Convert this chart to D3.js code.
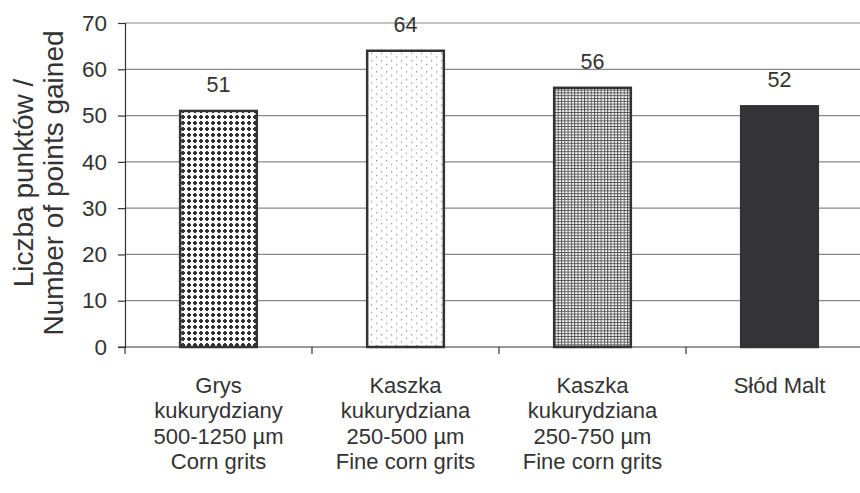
<!DOCTYPE html>
<html><head><meta charset="utf-8">
<script src="https://cdn.jsdelivr.net/npm/d3@7"></script>
<style>body{margin:0;background:#fff}svg{display:block;font-family:"Liberation Sans",Arial,sans-serif}</style>
</head><body><svg id="c" width="860" height="493"></svg>
<script>
const categories = [
  ["Grys","kukurydziany","500-1250 µm","Corn grits"],
  ["Kaszka","kukurydziana","250-500 µm","Fine corn grits"],
  ["Kaszka","kukurydziana","250-750 µm","Fine corn grits"],
  ["Słód Malt"]
];
const values = [51, 64, 56, 52];
const yTicks = [0,10,20,30,40,50,60,70];
const yTitle = ["Liczba punktów /","Number of points gained"];
const fills = ["url(#p0)","url(#p1)","url(#p2)","#333338"];

const svg = d3.select("#c");
const defs = svg.append("defs");
// pattern 0: plus markers
let p = defs.append("pattern").attr("id","p0").attr("patternUnits","userSpaceOnUse").attr("width",6).attr("height",6);
p.append("rect").attr("width",6).attr("height",6).attr("fill","#fff");
p.append("rect").attr("x",1).attr("y",2).attr("width",4).attr("height",2).attr("fill","#333");
p.append("rect").attr("x",2).attr("y",1).attr("width",2).attr("height",4).attr("fill","#333");
// pattern 1: sparse dots
p = defs.append("pattern").attr("id","p1").attr("patternUnits","userSpaceOnUse").attr("width",10).attr("height",7.4);
p.append("rect").attr("width",10).attr("height",7.4).attr("fill","#fff");
p.append("rect").attr("x",1).attr("y",1).attr("width",1.2).attr("height",1.2).attr("fill","#888");
p.append("rect").attr("x",6).attr("y",4.7).attr("width",1.2).attr("height",1.2).attr("fill","#888");
// pattern 2: fine grid
p = defs.append("pattern").attr("id","p2").attr("patternUnits","userSpaceOnUse").attr("width",3.3).attr("height",2.8);
p.append("rect").attr("width",3.3).attr("height",2.8).attr("fill","#fff");
p.append("rect").attr("x",0).attr("y",0).attr("width",1).attr("height",2.8).attr("fill","#555");
p.append("rect").attr("x",0).attr("y",0).attr("width",3.3).attr("height",1).attr("fill","#555");

const x = d3.scaleBand().domain(d3.range(values.length)).range([125, 873]).paddingInner(0.59).paddingOuter(0.295);
const y = d3.scaleLinear().domain([0,70]).range([347, 23]);

// gridlines
svg.append("g").selectAll("line").data(yTicks.filter(d=>d>0)).join("line")
  .attr("x1",125).attr("x2",873).attr("y1",d=>y(d)).attr("y2",d=>y(d))
  .attr("stroke","#888").attr("stroke-width",1.2);

// y axis
const ya = svg.append("g").attr("transform","translate(125,0)")
  .call(d3.axisLeft(y).tickValues(yTicks).tickSize(7).tickPadding(11).tickFormat(d3.format("d")));
ya.select(".domain").attr("stroke","#333").attr("stroke-width",1.2);
ya.selectAll(".tick line").attr("stroke","#333").attr("stroke-width",1.2);
ya.selectAll("text").attr("font-size",22.5).attr("fill","#333").attr("font-family","Liberation Sans, Arial, sans-serif");

// x axis
const xb = d3.scaleLinear().domain([0,4]).range([125,873]);
svg.append("line").attr("x1",118).attr("x2",873).attr("y1",y(0)).attr("y2",y(0)).attr("stroke","#333").attr("stroke-width",1.2);
svg.append("g").selectAll("line").data([0,1,2,3,4]).join("line")
  .attr("x1",d=>xb(d)).attr("x2",d=>xb(d)).attr("y1",y(0)).attr("y2",y(0)+7).attr("stroke","#333").attr("stroke-width",1.2);

// bars
svg.append("g").selectAll("rect").data(values).join("rect")
  .attr("x",(d,i)=>x(i)).attr("width",x.bandwidth())
  .attr("y",d=>y(d)).attr("height",d=>y(0)-y(d))
  .attr("fill",(d,i)=>fills[i]).attr("stroke","#333").attr("stroke-width",2.5);

// value labels
svg.append("g").selectAll("text").data(values).join("text")
  .attr("x",(d,i)=>x(i)+x.bandwidth()/2).attr("y",d=>y(d)-19)
  .attr("text-anchor","middle").attr("font-size",21.5).attr("fill","#333").text(d=>d);

// category labels
categories.forEach((lines,i)=>{
  const t = svg.append("text").attr("x",x(i)+x.bandwidth()/2).attr("y",393)
    .attr("text-anchor","middle").attr("font-size",22).attr("fill","#333");
  lines.forEach((l,j)=>t.append("tspan").attr("x",x(i)+x.bandwidth()/2).attr("dy",j?25.4:0).text(l));
});

// y title
const yt = svg.append("text").attr("transform","translate(33,183) rotate(-90)")
  .attr("text-anchor","middle").attr("font-size",28).attr("fill","#333");
yTitle.forEach((l,j)=>yt.append("tspan").attr("x",0).attr("dy",j?30:0).text(l));
</script></body></html>
